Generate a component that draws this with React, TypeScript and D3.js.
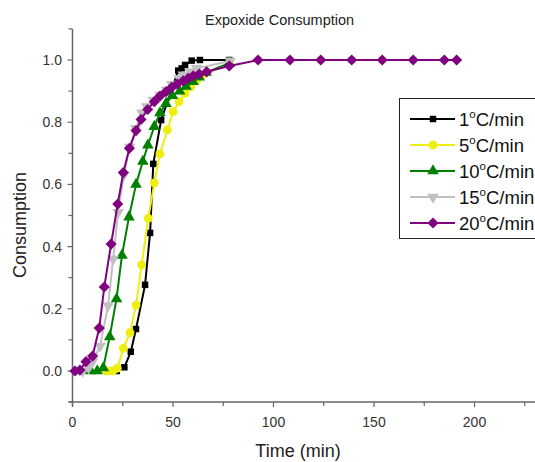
import React from "react";
import * as d3 from "d3";

const W = 535;
const H = 462;

const tailT = [92.3, 108.2, 123.5, 138.9, 154.1, 169.5, 185, 191.1];

const t1 = [18, 22, 25.8, 29, 31.6, 36.1, 38.6, 40.2, 44.1, 52.6, 54.3, 56, 59.3, 63.4, 78];
const v1 = [0, 0, 0.012, 0.062, 0.135, 0.277, 0.444, 0.666, 0.807, 0.966, 0.973, 0.984, 0.998, 1, 1];

const t5 = [17, 20, 22.3, 25.3, 28.6, 31.6, 34.4, 37.7, 40.7, 43.5, 47.2, 50.1, 53, 56, 58.8, 61.8, 64.3, 78];
const v5 = [0, 0, 0.009, 0.073, 0.123, 0.212, 0.341, 0.491, 0.605, 0.698, 0.775, 0.834, 0.866, 0.893, 0.914, 0.933, 0.949, 0.99];

const t10 = [9, 12.3, 15.3, 18.5, 21.9, 24.6, 28.1, 31.6, 35, 37.5, 40.7, 43.5, 46.5, 49.7, 53.3, 56.5, 60, 63, 66.5, 78];
const v10 = [0, 0, 0.01, 0.11, 0.232, 0.372, 0.495, 0.6, 0.674, 0.726, 0.786, 0.83, 0.86, 0.885, 0.9, 0.915, 0.93, 0.945, 0.96, 0.99];

const t15 = [5, 8, 10, 13.7, 17.7, 20.2, 22.7, 25.5, 28.5, 31.5, 34.5, 36.9, 40.2, 43.5, 46.9, 49.4, 53.1, 55.1, 58.5, 61.8, 78.4];
const v15 = [0, 0.01, 0.03, 0.08, 0.21, 0.36, 0.51, 0.63, 0.72, 0.78, 0.83, 0.85, 0.871, 0.887, 0.903, 0.922, 0.941, 0.952, 0.963, 0.973, 0.997];

const t20 = [1.2, 3.7, 6.7, 10.0, 13.3, 15.8, 19.2, 22.5, 25.3, 28.3, 31.6, 34.1, 37.4, 40.7, 43.5, 46.5, 49.4, 52.1, 55.1, 57.6, 60.1, 63.1, 66.8, 78, ...tailT];
const v20 = [0, 0.003, 0.03, 0.048, 0.138, 0.27, 0.408, 0.537, 0.638, 0.716, 0.773, 0.809, 0.841, 0.866, 0.884, 0.898, 0.912, 0.923, 0.933, 0.941, 0.949, 0.955, 0.962, 0.981, 1, 1, 1, 1, 1, 1, 1, 1];

const seriesNames = ["1", "5", "10", "15", "20"];
const seriesColors = ["#000000", "#eeee10", "#008000", "#c0c0c0", "#800080"];

const xTicks = [0, 50, 100, 150, 200];
const xMinor = [25, 75, 125, 175, 225];
const yTicks = [0, 0.2, 0.4, 0.6, 0.8, 1.0];
const yMinor = [-0.1, 0.1, 0.3, 0.5, 0.7, 0.9, 1.1];

const x = d3.scaleLinear().domain([0, 230]).range([72.5, 72.5 + 230 * 2.01]);
const y = d3.scaleLinear().domain([-0.1, 1.1]).range([402.1, 28.9]);

const series = [
  { t: t1, v: v1 },
  { t: t5, v: v5 },
  { t: t10, v: v10 },
  { t: t15, v: v15 },
  { t: t20, v: v20 },
];

const symSquare = d3.symbol().type(d3.symbolSquare).size(42)();
const symCircle = d3.symbol().type(d3.symbolCircle).size(62)();
const symTri = d3.symbol().type(d3.symbolTriangle).size(58)();
const symDiamond = d3.symbol().type(d3.symbolSquare).size(62)();

function Marker({ i, cx, cy, color }: { i: number; cx: number; cy: number; color: string }) {
  if (i === 0) return <path d={symSquare!} transform={`translate(${cx},${cy})`} fill={color} />;
  if (i === 1) return <path d={symCircle!} transform={`translate(${cx},${cy})`} fill={color} />;
  if (i === 2) return <path d={symTri!} transform={`translate(${cx},${cy})`} fill={color} />;
  if (i === 3) return <path d={symTri!} transform={`translate(${cx},${cy}) rotate(180)`} fill={color} />;
  return <path d={symDiamond!} transform={`translate(${cx},${cy}) rotate(45)`} fill={color} />;
}

export default function App() {
  const line = d3
    .line<[number, number]>()
    .x((d) => x(d[0]))
    .y((d) => y(d[1]));
  const axisColor = "#666";
  const labelColor = "#333";
  const x0 = x(0);
  const yBottom = y(-0.1);
  const yTop = y(1.1);
  const legendY = [119, 145, 171, 197, 223];

  return (
    <svg width={W} height={H} style={{ position: "absolute", left: 0, top: 0, background: "#fff" }} fontFamily="Arial, 'Liberation Sans', sans-serif">
      <rect width={W} height={H} fill="#fff" />
      <text x={205} y={25} textAnchor="start" fontSize={14.5} fill="#222">Expoxide Consumption</text>

      {/* axes */}
      <line x1={x0} x2={x0} y1={yTop} y2={yBottom + 4} stroke={axisColor} strokeWidth={1.5} />
      <line x1={x0 - 4} x2={W} y1={yBottom} y2={yBottom} stroke={axisColor} strokeWidth={1.5} />
      {xTicks.map((t) => (
        <g key={"xt" + t}>
          <line x1={x(t)} x2={x(t)} y1={yBottom} y2={yBottom + 5} stroke={axisColor} strokeWidth={1.2} />
          <text x={x(t)} y={427} textAnchor="middle" fontSize={14} fill={labelColor}>{t}</text>
        </g>
      ))}
      {xMinor.map((t) => (
        <line key={"xm" + t} x1={x(t)} x2={x(t)} y1={yBottom} y2={yBottom + 4} stroke={axisColor} strokeWidth={1.2} />
      ))}
      {yTicks.map((v) => (
        <g key={"yt" + v}>
          <line x1={x0 - 5} x2={x0} y1={y(v)} y2={y(v)} stroke={axisColor} strokeWidth={1.2} />
          <text x={62} y={y(v) + 5} textAnchor="end" fontSize={14} fill={labelColor}>{v.toFixed(1)}</text>
        </g>
      ))}
      {yMinor.map((v) => (
        <line key={"ym" + v} x1={x0 - 4} x2={x0} y1={y(v)} y2={y(v)} stroke={axisColor} strokeWidth={1.2} />
      ))}
      <text x={298} y={457} textAnchor="middle" fontSize={18} fill="#222">Time (min)</text>
      <text transform={`translate(26,225) rotate(-90)`} textAnchor="middle" fontSize={18} fill="#222">Consumption</text>

      {/* series */}
      {series.map((s, i) => {
        const pts = s.t.map((t, k) => [t, s.v[k]] as [number, number]);
        return (
          <g key={"s" + i}>
            <path d={line(pts)!} fill="none" stroke={seriesColors[i]} strokeWidth={2} />
            {pts.map((p, k) => (
              <Marker key={k} i={i} cx={x(p[0])} cy={y(p[1])} color={seriesColors[i]} />
            ))}
          </g>
        );
      })}

      {/* legend */}
      <rect x={399.5} y={98.5} width={150} height={140} fill="#fff" stroke="#222" strokeWidth={1} />
      {seriesNames.map((n, i) => (
        <g key={"lg" + i}>
          <line x1={410} x2={455} y1={legendY[i]} y2={legendY[i]} stroke={seriesColors[i]} strokeWidth={2} />
          <Marker i={i} cx={433} cy={legendY[i]} color={seriesColors[i]} />
          <text x={459} y={legendY[i] + 6.5} fontSize={18.5} fill="#111">
            {n}
            <tspan fontSize={11.5} dy={-8}>o</tspan>
            <tspan dy={8}>C/min</tspan>
          </text>
        </g>
      ))}
    </svg>
  );
}
